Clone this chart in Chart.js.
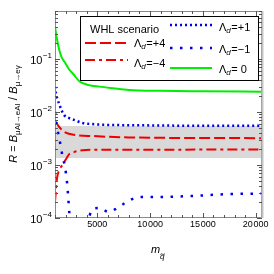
<!DOCTYPE html>
<html><head><meta charset="utf-8">
<script src="https://cdn.jsdelivr.net/npm/chart.js@4.4.1/dist/chart.umd.min.js"></script>
<style>html,body{margin:0;padding:0;background:#fff}</style>
</head><body>
<canvas id="c" width="274" height="274"></canvas>
<script>
// values (x = squark mass, y = ratio R)
const mGreen = [1000, 1200, 1400, 1600, 1900, 2300, 2800, 3300, 4200, 5200, 6500, 8000, 11000, 15000, 20600];
const rGreen = [0.40, 0.23, 0.148, 0.11, 0.088, 0.065, 0.05, 0.038, 0.032, 0.030, 0.028, 0.026, 0.025, 0.0245, 0.024];

const mPlus1 = [1000, 1100, 1250, 1400, 1600, 1870, 2300, 2800, 3600, 4500, 6000, 9000, 14000, 20600];
const rPlus1 = [0.030, 0.022, 0.017, 0.014, 0.011, 0.0087, 0.0077, 0.0071, 0.0062, 0.0059, 0.0057, 0.0056, 0.0055, 0.0055];

const mPlus4 = [1000, 1200, 1400, 1870, 2800, 4700, 8000, 20600];
const rPlus4 = [0.0068, 0.0059, 0.0052, 0.0042, 0.0037, 0.0035, 0.0033, 0.0032];

const mMinus4 = [1000, 1100, 1200, 1400, 1700, 2050, 2350, 2800, 3600, 5000, 20600];
const rMinus4 = [0.0002, 0.00036, 0.00058, 0.0008, 0.001, 0.0013, 0.0016, 0.00175, 0.0019, 0.00193, 0.00195];

const mMinus1 = [1000, 1150, 1300, 1500, 1700, 1950, 2150, 2250, 2350, 2450, 3500, 4200, 4530, 5290, 6050, 6900, 7760, 8610, 9560, 11000, 14000, 17000, 20600];
const rMinus1 = [0.010, 0.006, 0.004, 0.0025, 0.0015, 0.0009, 0.00045, 0.00025, 0.00013, 0.00008, 0.00005, 0.0001, 0.000148, 0.000154, 0.00013, 0.000154, 0.0002, 0.00024, 0.00025, 0.00025, 0.00026, 0.00028, 0.00029];

const bandX = [1000, 20600];
const bandHigh = [0.0054, 0.0054];
const bandLow = [0.00135, 0.00135];

const xTickVals = [5000, 10000, 15000, 20000];
const yDecades = [-1, -2, -3, -4];

const pts = (xs, ys) => xs.map((x, i) => ({x: x, y: ys[i]}));

const RED = '#f20000', BLUE = '#0000f0', GREEN = '#00ee00';
const styles = {
    plus1: {color: BLUE, width: 2.5, dash: [2, 3]},
    minus1: {color: BLUE, width: 2.5, dash: [2.5, 7.5]},
    plus4: {color: RED, width: 2, dash: [11, 4]},
    minus4: {color: RED, width: 2, dash: [10, 4, 3, 4]},
    zero: {color: GREEN, width: 2, dash: []}
};

function line(label, data, st) {
    return {
        label: label, data: data, borderColor: st.color, borderWidth: st.width,
        borderDash: st.dash, pointRadius: 0, fill: false,
        cubicInterpolationMode: 'monotone'
    };
}

const FONT = '"Liberation Sans", Arial, sans-serif';

const decor = {
    id: 'decor',
    afterDraw(chart) {
        const ctx = chart.ctx, a = chart.chartArea;
        const xs = chart.scales.x, ys = chart.scales.y;
        ctx.save();
        // frame
        ctx.strokeStyle = '#8a8a8a';
        ctx.lineWidth = 1;
        ctx.strokeRect(a.left + 0.5, a.top + 0.5, a.right - a.left - 1, a.bottom - a.top - 1);
        ctx.strokeStyle = '#c4c4c4';
        ctx.lineWidth = 2;
        ctx.beginPath();
        ctx.moveTo(a.right + 0.5, a.top);
        ctx.lineTo(a.right + 0.5, a.bottom);
        ctx.stroke();

        // inward ticks
        ctx.strokeStyle = '#555';
        ctx.lineWidth = 1;
        ctx.beginPath();
        for (let v = 1000; v <= 20600; v += 1000) {
            const px = Math.round(xs.getPixelForValue(v)) + 0.5;
            const len = v % 5000 === 0 ? 5 : 3;
            ctx.moveTo(px, a.bottom); ctx.lineTo(px, a.bottom - len);
            ctx.moveTo(px, a.top); ctx.lineTo(px, a.top + len);
        }
        for (let e = -4; e <= -1; e++) {
            for (let k = 1; k <= 9; k++) {
                const v = k * Math.pow(10, e);
                if (v > ys.max) continue;
                const py = Math.round(ys.getPixelForValue(v)) + 0.5;
                const len = k === 1 ? 5 : 3;
                ctx.moveTo(a.left, py); ctx.lineTo(a.left + len, py);
                ctx.moveTo(a.right, py); ctx.lineTo(a.right - len, py);
            }
        }
        ctx.stroke();

        // y tick labels 10^-n
        ctx.fillStyle = '#000';
        yDecades.forEach(e => {
            const py = ys.getPixelForValue(Math.pow(10, e));
            ctx.font = '8px ' + FONT;
            ctx.textAlign = 'right';
            ctx.textBaseline = 'middle';
            const sup = '\u2212' + (-e);
            ctx.fillText(sup, 52, py - 3);
            const w = ctx.measureText(sup).width;
            ctx.font = '11px ' + FONT;
            ctx.fillText('10', 52 - w - 0.5, py + 2);
        });

        // y title (rotated)
        const parts = [
            {t: 'R', f: 'italic 11px ' + FONT, dy: 0},
            {t: ' = ', f: '11px ' + FONT, dy: 0},
            {t: 'B', f: 'italic 11px ' + FONT, dy: 0},
            {t: '\u03bcAl\u2192eAl', f: '8px ' + FONT, dy: 3},
            {t: ' / ', f: '12px ' + FONT, dy: 0},
            {t: 'B', f: 'italic 11px ' + FONT, dy: 0},
            {t: '\u03bc\u2192e\u03b3', f: '8px ' + FONT, dy: 3}
        ];
        let total = 0;
        parts.forEach(p => { ctx.font = p.f; p.w = ctx.measureText(p.t).width; total += p.w; });
        ctx.save();
        ctx.translate(13, 114);
        ctx.rotate(-Math.PI / 2);
        ctx.textAlign = 'left';
        ctx.textBaseline = 'alphabetic';
        let cx = -total / 2;
        parts.forEach(p => { ctx.font = p.f; ctx.fillText(p.t, cx, 4 + p.dy); cx += p.w; });
        ctx.restore();

        // x title m_q~
        ctx.textAlign = 'left';
        ctx.textBaseline = 'alphabetic';
        ctx.font = 'italic 11px ' + FONT;
        ctx.fillText('m', 151, 253);
        ctx.font = 'italic 8px ' + FONT;
        ctx.fillText('q', 160, 259);
        ctx.strokeStyle = '#000';
        ctx.lineWidth = 0.8;
        ctx.beginPath();
        ctx.moveTo(160.5, 254.5);
        ctx.bezierCurveTo(161.5, 252.5, 163, 256, 165, 253.5);
        ctx.stroke();

        // legend box
        ctx.fillStyle = '#fff';
        ctx.fillRect(80, 16, 178, 64);
        ctx.strokeStyle = '#000';
        ctx.lineWidth = 1;
        ctx.strokeRect(80.5, 16.5, 178, 64);

        function sample(st, x1, x2, y) {
            ctx.save();
            ctx.strokeStyle = st.color;
            ctx.lineWidth = st.width;
            ctx.setLineDash(st.dash);
            ctx.beginPath();
            ctx.moveTo(x1, y); ctx.lineTo(x2, y);
            ctx.stroke();
            ctx.restore();
        }
        function lam(rest, x, y) {
            ctx.fillStyle = '#000';
            ctx.textAlign = 'left';
            ctx.textBaseline = 'middle';
            ctx.font = '11px ' + FONT;
            ctx.fillText('\u039b', x, y);
            let cx = x + ctx.measureText('\u039b').width;
            ctx.font = 'italic 8px ' + FONT;
            ctx.fillText('d', cx, y + 3);
            cx += ctx.measureText('d').width + 0.5;
            ctx.font = '11px ' + FONT;
            ctx.fillText(rest, cx, y);
        }
        ctx.fillStyle = '#000';
        ctx.font = '11px ' + FONT;
        ctx.textAlign = 'left';
        ctx.textBaseline = 'middle';
        ctx.fillText('WHL scenario', 90, 30);
        sample(styles.plus1, 170, 212, 25);
        lam('=+1', 219, 28);
        sample(styles.plus4, 85, 128, 43);
        lam('=+4', 134, 44);
        sample(styles.minus1, 170, 212, 48);
        lam('=\u22121', 219, 50);
        sample(styles.minus4, 85, 128, 60);
        lam('=\u22124', 134, 64);
        sample(styles.zero, 170, 212, 68);
        lam('= 0', 219, 70);
        ctx.restore();
    }
};

new Chart(document.getElementById('c').getContext('2d'), {
    type: 'line',
    data: {
        datasets: [
            line('\u039bd=+1', pts(mPlus1, rPlus1), styles.plus1),
            line('\u039bd=\u22121', pts(mMinus1, rMinus1), styles.minus1),
            line('\u039bd=+4', pts(mPlus4, rPlus4), styles.plus4),
            line('\u039bd=\u22124', pts(mMinus4, rMinus4), styles.minus4),
            line('\u039bd= 0', pts(mGreen, rGreen), styles.zero),
            {label: 'band high', data: pts(bandX, bandHigh), borderWidth: 0, pointRadius: 0, fill: false},
            {label: 'band low', data: pts(bandX, bandLow), borderWidth: 0, pointRadius: 0,
             fill: '-1', backgroundColor: '#d9d9d9'}
        ]
    },
    options: {
        responsive: false,
        animation: false,
        layout: {padding: {top: 11, right: 12, left: 0, bottom: 0}},
        plugins: {legend: {display: false}, tooltip: {enabled: false}},
        scales: {
            x: {
                type: 'linear', min: 1000, max: 20600,
                grid: {display: false, drawTicks: false},
                border: {display: false},
                afterFit(s) { s.height = 56; },
                afterBuildTicks(s) { s.ticks = xTickVals.map(v => ({value: v})); },
                ticks: {
                    autoSkip: false, maxRotation: 0, padding: 1, color: '#000',
                    font: {family: 'Liberation Sans', size: 9},
                    callback: v => v >= 10000 ? String(Math.floor(v / 1000)) + '\u200a' + String(v % 1000).padStart(3, '0') : String(v)
                }
            },
            y: {
                type: 'logarithmic', min: 1e-4, max: 0.8,
                grid: {display: false, drawTicks: false},
                border: {display: false},
                ticks: {display: false},
                afterFit(s) { s.width = 55; }
            }
        }
    },
    plugins: [decor]
});
</script>
</body></html>
